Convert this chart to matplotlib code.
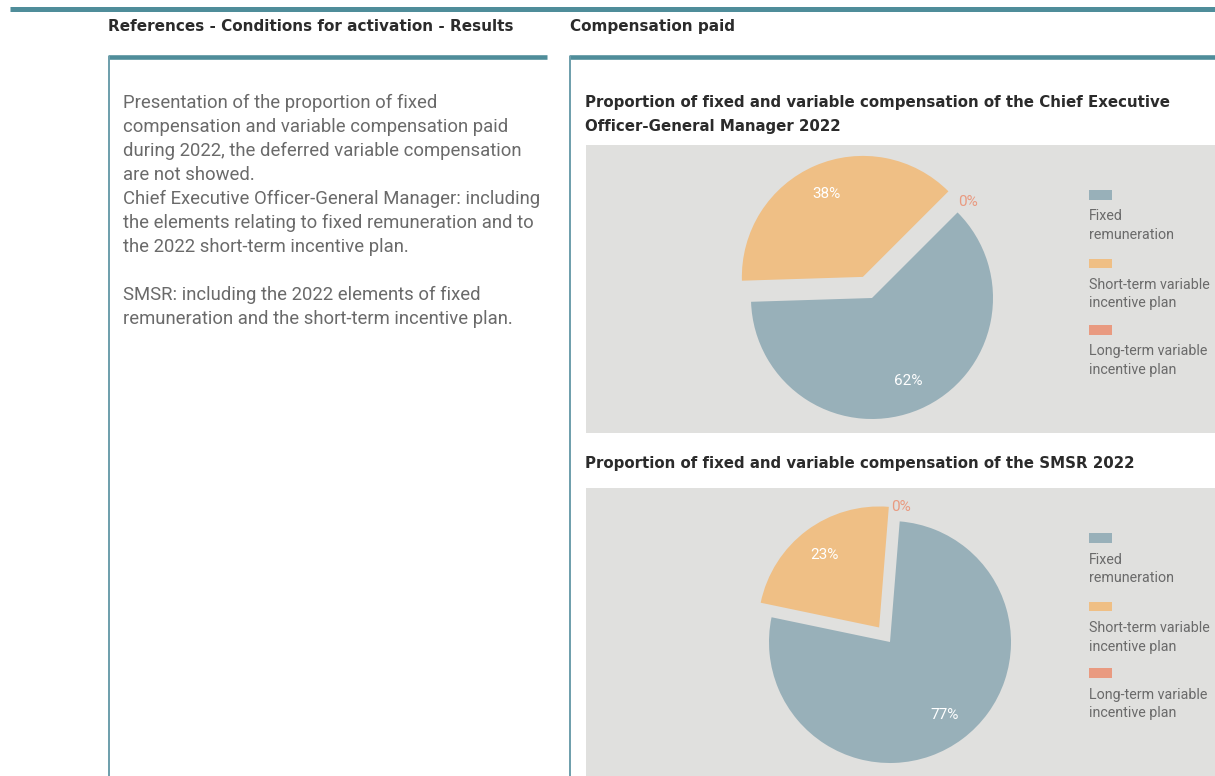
import numpy as np
import matplotlib
matplotlib.use("Agg")
import matplotlib.pyplot as plt
from matplotlib.patches import Rectangle


# =========================
# DATA
# =========================
categories = ["Fixed\nremuneration",
              "Short-term variable\nincentive plan",
              "Long-term variable\nincentive plan"]
ceo_values = [62, 38, 0]
smsr_values = [77, 23, 0]

left_heading = "References - Conditions for activation - Results"
right_heading = "Compensation paid"
ceo_title = ["Proportion of fixed and variable compensation of the Chief Executive",
             "Officer-General Manager 2022"]
smsr_title = ["Proportion of fixed and variable compensation of the SMSR 2022"]
body_lines = [
    "Presentation of the proportion of fixed",
    "compensation and variable compensation paid",
    "during 2022, the deferred variable compensation",
    "are not showed.",
    "Chief Executive Officer-General Manager: including",
    "the elements relating to fixed remuneration and to",
    "the 2022 short-term incentive plan.",
    "",
    "SMSR: including the 2022 elements of fixed",
    "remuneration and the short-term incentive plan.",
]


# =========================
# STYLE
# =========================
TEAL = "#4f8d9a"
TEAL_LIGHT = "#6c9eab"
PANEL = "#e0e0de"
COLORS = ["#98b0b9", "#efbf85", "#e99a80"]
DARK = "#2b2b2b"
GREY = "#6a6a6a"
BOLD_FONT = ["DejaVu Sans"]

plt.rcParams['font.family'] = ['Roboto', 'DejaVu Sans']

W, H = 1215, 776
fig = plt.figure(figsize=(W / 100, H / 100), dpi=100)
fig.patch.set_facecolor("white")

# page axes in pixel coordinates
page = fig.add_axes([0, 0, 1, 1])
page.set_xlim(0, W)
page.set_ylim(H, 0)
page.axis("off")

# rules
page.plot([10, W], [8.5, 8.5], color=TEAL, lw=3.6, solid_capstyle="butt")
page.plot([108, 547], [57, 57], color=TEAL, lw=3.3, solid_capstyle="butt")
page.plot([569, W], [57, 57], color=TEAL, lw=3.3, solid_capstyle="butt")
page.plot([108.5, 108.5], [57, H], color=TEAL_LIGHT, lw=1.4)
page.plot([570, 570], [57, H], color=TEAL_LIGHT, lw=1.4)

# headings
page.text(108, 31, left_heading, fontsize=11, fontweight="bold",
          family=BOLD_FONT, color=DARK, va="baseline", ha="left")
page.text(570, 31, right_heading, fontsize=11, fontweight="bold",
          family=BOLD_FONT, color=DARK, va="baseline", ha="left")

# body text
for i, line in enumerate(body_lines):
    page.text(123, 108 + 24 * i, line, fontsize=13.3, fontweight="normal",
              color=GREY, va="baseline", ha="left")

for i, line in enumerate(ceo_title):
    page.text(585, 107 + 24 * i, line, fontsize=10.8, fontweight="bold",
              family=BOLD_FONT, color=DARK, va="baseline", ha="left")
for i, line in enumerate(smsr_title):
    page.text(585, 468 + 24 * i, line, fontsize=10.8, fontweight="bold",
              family=BOLD_FONT, color=DARK, va="baseline", ha="left")


# =========================
# PIES
# =========================
R = 121.0  # pie radius in pixels


def draw_pie(values, panel, center, startangle, explode_amt):
    x0, y0, x1, y1 = panel
    cx, cy = center
    ax = fig.add_axes([x0 / W, 1 - y1 / H, (x1 - x0) / W, (y1 - y0) / H])
    ax.set_facecolor(PANEL)
    explode = [0, explode_amt, 0]
    wedges, texts, autotexts = ax.pie(
        values, colors=COLORS, explode=explode, startangle=startangle,
        counterclock=False, autopct="%1.0f%%", pctdistance=0.75,
        wedgeprops=dict(linewidth=0),
        textprops=dict(color="white", fontsize=11))
    for v, w, t in zip(values, wedges, autotexts):
        if v == 0:
            ang = np.deg2rad(w.theta1)
            t.set_position((1.12 * np.cos(ang), 1.12 * np.sin(ang)))
            t.set_color(COLORS[2])
    ax.set_xlim((x0 - cx) / R, (x1 - cx) / R)
    ax.set_ylim((cy - y1) / R, (cy - y0) / R)
    ax.set_aspect("auto")
    ax.set_frame_on(True)
    for s in ax.spines.values():
        s.set_visible(False)
    ax.set_xticks([])
    ax.set_yticks([])

    # legend: swatch above label, stacked
    offsets = [50, 118.5, 185]
    for k, (lab, col) in enumerate(zip(categories, COLORS)):
        yc = y0 + offsets[k]
        page.add_patch(Rectangle((1089, yc - 4.8), 23, 9.6, color=col,
                                 lw=0, zorder=5))
        for j, part in enumerate(lab.split("\n")):
            page.text(1089, yc + 25.5 + 18.5 * j, part, fontsize=10.3,
                      fontweight="normal", color=GREY, va="baseline",
                      ha="left", zorder=5)
    return ax


draw_pie(ceo_values, (586, 145, W, 433), (872, 298), 45, 0.19)
draw_pie(smsr_values, (586, 488, W, H), (890, 642), 85.4, 0.15)

# page on top so legends sit above the panels
page.set_zorder(3)
page.patch.set_alpha(0)

fig.savefig("out.png", dpi=100)
